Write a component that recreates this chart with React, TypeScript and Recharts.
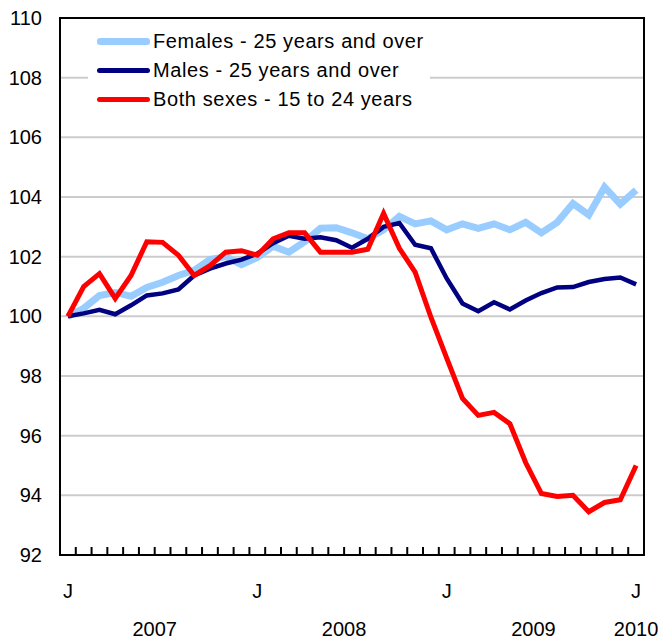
import { LineChart, Line, XAxis, YAxis, CartesianGrid, ReferenceArea } from 'recharts';

const months = [
  '2007-01', '2007-02', '2007-03', '2007-04', '2007-05', '2007-06', '2007-07', '2007-08', '2007-09', '2007-10', '2007-11', '2007-12',
  '2008-01', '2008-02', '2008-03', '2008-04', '2008-05', '2008-06', '2008-07', '2008-08', '2008-09', '2008-10', '2008-11', '2008-12',
  '2009-01', '2009-02', '2009-03', '2009-04', '2009-05', '2009-06', '2009-07', '2009-08', '2009-09', '2009-10', '2009-11', '2009-12',
  '2010-01',
];

const females = [
  100, 100.27, 100.7, 100.8, 100.67, 100.97, 101.14, 101.37, 101.54, 101.9, 102.0, 101.73,
  101.97, 102.35, 102.15, 102.5, 102.95, 102.97, 102.8, 102.6, 102.9, 103.35, 103.1, 103.2,
  102.9, 103.1, 102.95, 103.1, 102.9, 103.15, 102.8, 103.15, 103.78, 103.4, 104.33, 103.76,
  104.23,
];

const males = [
  100, 100.1, 100.22, 100.07, 100.37, 100.7, 100.77, 100.9, 101.37, 101.6, 101.77, 101.9,
  102.1, 102.45, 102.7, 102.6, 102.65, 102.55, 102.3, 102.6, 103.0, 103.13, 102.4, 102.28,
  101.27, 100.43, 100.17, 100.47, 100.23, 100.53, 100.78, 100.97, 100.98, 101.15, 101.25, 101.3,
  101.07,
];

const youth = [
  100, 101.0, 101.43, 100.6, 101.37, 102.5, 102.48, 102.05, 101.37, 101.7, 102.15, 102.2,
  102.05, 102.6, 102.8, 102.8, 102.15, 102.15, 102.15, 102.25, 103.45, 102.28, 101.48, 99.97,
  98.6, 97.25, 96.68, 96.78, 96.4, 95.1, 94.06, 93.96, 94.0, 93.45, 93.76, 93.85,
  95.0,
];

const seriesNames = ['Females - 25 years and over', 'Males - 25 years and over', 'Both sexes - 15 to 24 years'];
const seriesColors = ['#99ccff', '#000080', '#ff0000'];
const yTicks = [92, 94, 96, 98, 100, 102, 104, 106, 108, 110];
const years = ['2007', '2008', '2009', '2010'];

const data = months.map((m, i) => ({ i, month: m, females: females[i], males: males[i], youth: youth[i] }));
const last = months.length - 1;

// month boundaries get tick marks, January gets a "J", mid-year gets the year
const boundaryTicks = months.slice(1).map((_, k) => k + 0.5);
const janTicks = months.map((m, i) => (m.endsWith('-01') ? i : -1)).filter(i => i >= 0);
const yearPos = years.map((_, k) => Math.min(k * 12 + 5.5, last));
const allTicks = Array.from(new Set([...boundaryTicks, ...janTicks])).sort((a, b) => a - b);

const font = '"Liberation Sans", Arial, Helvetica, sans-serif';

function MonthTick(props: any) {
  const { x, y, payload } = props;
  const v = payload.value;
  const yi = yearPos.indexOf(v);
  return (
    <g>
      {!Number.isInteger(v) && <line x1={x} x2={x} y1={y} y2={y - 8} stroke="#000" strokeWidth={2} />}
      {Number.isInteger(v) && (
        <text x={x} y={y + 43} textAnchor="middle" fontSize={20} fontFamily={font} fill="#000">J</text>
      )}
      {yi >= 0 && (
        <text x={x} y={y + 81} textAnchor="middle" fontSize={20} fontFamily={font} fill="#000">{years[yi]}</text>
      )}
    </g>
  );
}

function Legend() {
  return (
    <div style={{ position: 'absolute', left: 88, top: 27, width: 342, height: 88, background: '#fff', fontFamily: font, fontSize: 20, letterSpacing: 0.6 }}>
      {seriesNames.map((n, k) => (
        <div key={n} style={{ display: 'flex', alignItems: 'center', height: 29, whiteSpace: 'nowrap' }}>
          <span style={{ display: 'inline-block', marginLeft: 9, width: 53, height: k === 0 ? 7 : 5, borderRadius: 3, background: seriesColors[k], marginRight: 3 }} />
          <span>{n}</span>
        </div>
      ))}
    </div>
  );
}

export default function App() {
  return (
    <div style={{ position: 'absolute', left: 0, top: 0, width: 663, height: 643, background: '#fff' }}>
      <LineChart width={663} height={643} data={data} margin={{ top: 18, right: 19, bottom: 0, left: 0 }}>
        <CartesianGrid vertical={false} stroke="#cccccc" strokeWidth={2} />
        <XAxis
          dataKey="i"
          type="number"
          domain={[-0.5, last + 0.5]}
          ticks={[...allTicks, ...yearPos.filter(p => !allTicks.includes(p))]}
          interval={0}
          height={88}
          tickSize={0}
          tickMargin={0}
          tickLine={false}
          axisLine={{ stroke: '#000', strokeWidth: 2 }}
          tick={<MonthTick />}
        />
        <YAxis
          domain={[92, 110]}
          ticks={yTicks}
          interval={0}
          width={60}
          tickSize={0}
          tickMargin={18}
          tickLine={false}
          axisLine={{ stroke: '#000', strokeWidth: 2 }}
          tick={{ fontSize: 20, fontFamily: font, fill: '#000' }}
        />
        <Line dataKey="females" stroke={seriesColors[0]} strokeWidth={7} dot={false} isAnimationActive={false} />
        <Line dataKey="males" stroke={seriesColors[1]} strokeWidth={4.5} dot={false} isAnimationActive={false} />
        <Line dataKey="youth" stroke={seriesColors[2]} strokeWidth={5} dot={false} isAnimationActive={false} />
        <ReferenceArea x1={-0.5} x2={last + 0.5} y1={92} y2={110} fill="none" stroke="#000" strokeWidth={2} fillOpacity={0} />
      </LineChart>
      <Legend />
    </div>
  );
}
